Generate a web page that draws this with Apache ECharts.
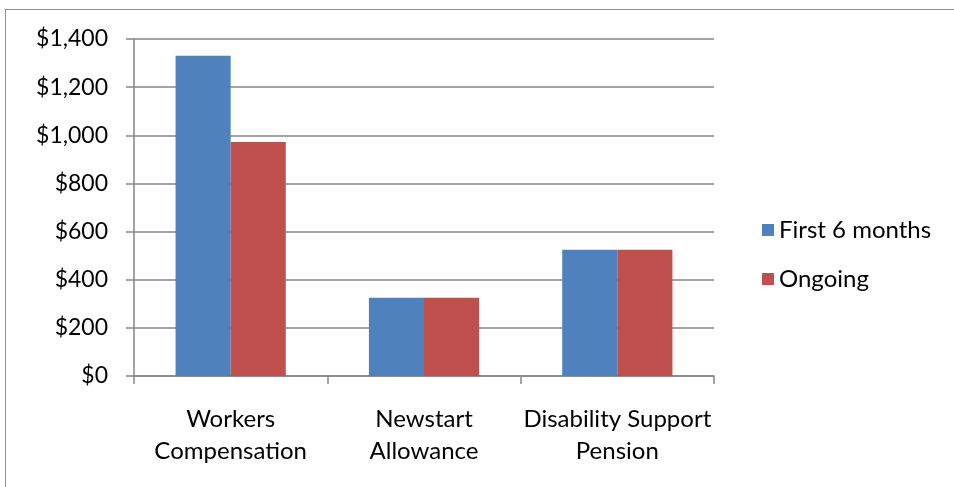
<!DOCTYPE html>
<html>
<head>
<meta charset="utf-8">
<script src="https://cdn.jsdelivr.net/npm/echarts@6/dist/echarts.min.js"></script>
<style>
html,body{margin:0;padding:0;background:#fff;}
#frame{position:absolute;left:5px;top:9px;width:949px;height:478px;border-left:1.5px solid #8c8c8c;border-top:1.5px solid #8c8c8c;box-sizing:border-box;}
#chart{position:absolute;left:0;top:0;width:954px;height:487px;}
</style>
</head>
<body>
<div id="frame"></div>
<div id="chart"></div>
<script>
var categories = ['Workers\nCompensation', 'Newstart\nAllowance', 'Disability Support\nPension'];
var firstSixMonths = [1330, 325, 525];
var ongoing = [972, 325, 525];
var seriesNames = ['First 6 months', 'Ongoing'];
var yTicks = [0, 200, 400, 600, 800, 1000, 1200, 1400];

var font = 'Lato, "Open Sans", sans-serif';
var chart = echarts.init(document.getElementById('chart'), null, {renderer: 'canvas'});
chart.setOption({
  animation: false,
  backgroundColor: 'transparent',
  grid: {left: 134, right: 240, top: 39, bottom: 111, containLabel: false},
  legend: {
    orient: 'vertical',
    left: 757,
    top: 213,
    itemWidth: 12,
    itemHeight: 12,
    itemGap: 25,
    icon: 'rect',
    textStyle: {fontFamily: font, fontSize: 24, color: '#000', padding: [0, 0, 0, 0]},
    data: seriesNames
  },
  xAxis: {
    type: 'category',
    data: categories,
    axisLine: {lineStyle: {color: '#868686', width: 1.5}},
    axisTick: {show: true, length: 8, lineStyle: {color: '#868686', width: 1.5}},
    axisLabel: {fontFamily: font, fontSize: 24, color: '#000', margin: 27, lineHeight: 32, interval: 0}
  },
  yAxis: {
    type: 'value',
    min: yTicks[0],
    max: yTicks[yTicks.length - 1],
    interval: 200,
    axisLine: {show: true, lineStyle: {color: '#868686', width: 1.5}},
    axisTick: {show: true, length: 8, lineStyle: {color: '#868686', width: 1.5}},
    splitLine: {lineStyle: {color: '#868686', width: 1.5}},
    axisLabel: {
      fontFamily: font, fontSize: 23, color: '#000', margin: 26,
      formatter: function (v) { return '$' + v.toLocaleString('en-US'); }
    }
  },
  series: [
    {name: seriesNames[0], type: 'bar', data: firstSixMonths, barGap: '0%', barCategoryGap: '43%',
     itemStyle: {color: '#4F81BD'}},
    {name: seriesNames[1], type: 'bar', data: ongoing, barGap: '0%', barCategoryGap: '43%',
     itemStyle: {color: '#C0504D'}}
  ]
});
</script>
</body>
</html>
